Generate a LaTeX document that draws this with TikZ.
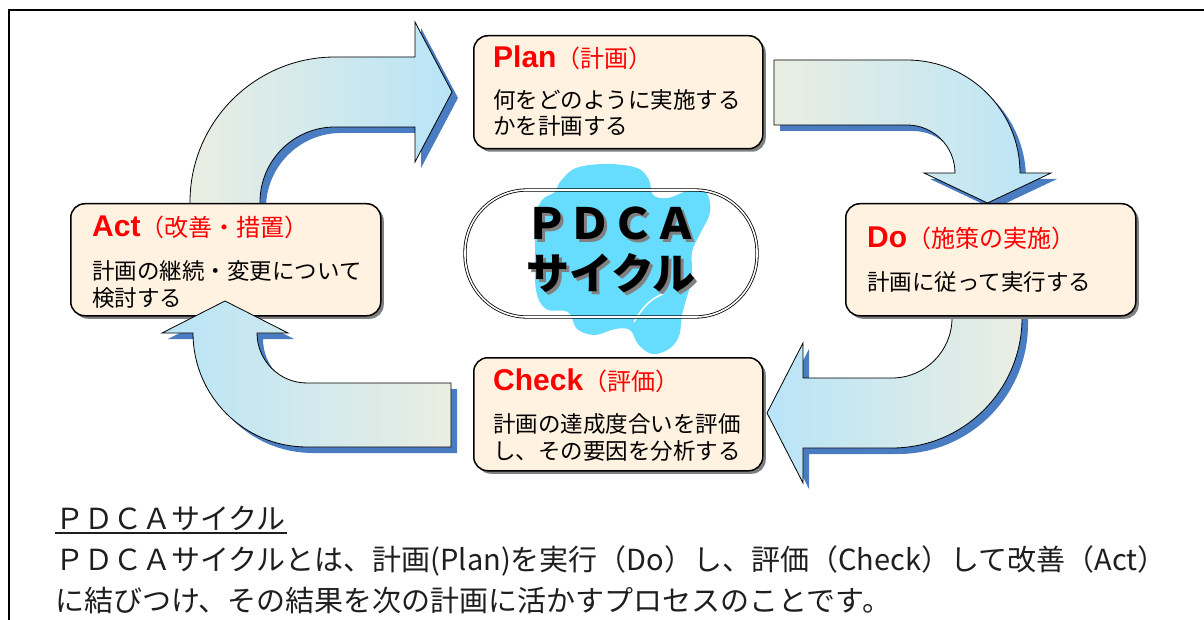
\documentclass[tikz,border=0pt]{standalone}
\usepackage{fontspec}
\setmainfont{Liberation Sans}
\newfontfamily\jp{Noto Sans CJK JP}
\usetikzlibrary{shadows}
\definecolor{boxfill}{RGB}{255,242,224}
\definecolor{arrowshadow}{RGB}{74,124,194}
\definecolor{tailcol}{RGB}{234,238,226}
\definecolor{headcol}{RGB}{184,228,248}
\definecolor{blobcol}{RGB}{102,221,255}
\definecolor{txt}{RGB}{30,30,30}
\definecolor{titlered}{RGB}{255,0,0}
\definecolor{hubshadow}{RGB}{128,128,128}
\newcommand\arrowOne[1]{\path[#1] (190,215) -- (190,202) .. controls (190,122) and (255,57) .. (335,57) -- (415,57) -- (415,22) -- (452,92) -- (415,162) -- (415,127) -- (335,127) .. controls (293.6,127) and (260,160.6) .. (260,202) -- (260,215) -- cycle;}
\newcommand\arrowTwo[1]{\path[#1] (774,60) -- (907,60) .. controls (969.4,60) and (1020,110.6) .. (1020,173) -- (1051,173) -- (987.5,203) -- (924,173) -- (955,173) .. controls (955,146.5) and (933.5,125) .. (907,125) -- (774,125) -- cycle;}
\newcommand\arrowThree[1]{\path[#1] (1022,305) -- (1022,318) .. controls (1022,389.8) and (963.8,448) .. (892,448) -- (803,448) -- (803,483) -- (767,413) -- (803,343) -- (803,378) -- (892,378) .. controls (925.1,378) and (952,351.1) .. (952,318) -- (952,305) -- cycle;}
\newcommand\arrowFour[1]{\path[#1] (451,383) -- (307,383) .. controls (279.4,383) and (257,360.6) .. (257,333) -- (288,333) -- (225,301) -- (162,333) -- (193,333) .. controls (193,396) and (244,447) .. (307,447) -- (451,447) -- cycle;}
\tikzset{
  box/.style={draw=black, line width=1.5pt, fill=boxfill, rounded corners=14pt, inner sep=0pt,
    drop shadow={shadow xshift=3pt, shadow yshift=-3pt, fill=black!50, opacity=1}},
  arrowshade/.style={fill=arrowshadow, shift={(6,6)}},
  arrowbody/.style={draw=black, line width=0.8pt},
  ttl/.style={anchor=base west, inner sep=0pt, text=titlered},
  body/.style={anchor=west, inner sep=0pt, text=black, font=\jp\fontsize{22.5}{26}\selectfont},
  note/.style={anchor=west, inner sep=0pt, text=txt, font=\jp\fontsize{29}{32}\selectfont},
  hubtext/.style={inner sep=0pt, text=black, font=\jp\bfseries\fontsize{43}{46}\selectfont},
}
\newcommand\ttlfont[2]{{\bfseries\fontsize{30}{32}\selectfont #1}{\jp\fontsize{24}{28}\selectfont #2}}
\newcommand\shadowed[1]{\rlap{\hspace{3pt}\raisebox{-3pt}{\textcolor{hubshadow}{#1}}}#1}
\begin{document}
\begin{tikzpicture}[x=1pt,y=-1pt]
\useasboundingbox (0,0) rectangle (1204,620);
% frame
\draw[line width=2pt] (8.5,640) -- (8.5,10) -- (1230,10);
% blob
\fill[blobcol] plot[smooth cycle, tension=0.6] coordinates {(560,182) (576,168) (607,164) (637,168) (649,180) (653,195) (668,198) (690,190) (706,192) (710,212) (700,234) (692,252) (692,277) (686,300) (682,315) (679,336) (669,349) (652,354) (638,344) (630,330) (615,329) (595,335) (577,329) (568,312) (546,309) (536,290) (535,250) (536,215) (543,199) (555,192)};
\draw[white, line width=1.5pt] (634,322) .. controls (642,308) and (650,299) .. (663,294);
% arrows behind boxes
\arrowOne{arrowshade}
\arrowOne{arrowbody, left color=tailcol, right color=headcol}
\arrowTwo{arrowshade}
\arrowTwo{arrowbody, left color=tailcol, right color=headcol}
\arrowThree{arrowshade}
\arrowThree{arrowbody, left color=headcol, right color=tailcol}
% boxes
\node[box, minimum width=289pt, minimum height=113pt, anchor=north west] (plan) at (473,35) {};
\node[box, minimum width=310pt, minimum height=112pt, anchor=north west] (act) at (70,203) {};
\node[box, minimum width=290pt, minimum height=112pt, anchor=north west] (do) at (845,203) {};
\node[box, minimum width=289pt, minimum height=113pt, anchor=north west] (check) at (473,357) {};
% arrow over Act box
\arrowFour{arrowshade}
\arrowFour{arrowbody, left color=headcol, right color=tailcol}
% box texts
\node[ttl] (planT) at (493,68) {\ttlfont{Plan}{（計画）}};
\node[body] (planB1) at (493,100) {何をどのように実施する};
\node[body] (planB2) at (493,126) {かを計画する};
\node[ttl] (actT) at (92,237) {\ttlfont{Act}{（改善・措置）}};
\node[body] (actB1) at (92,271) {計画の継続・変更について};
\node[body] (actB2) at (92,298) {検討する};
\node[ttl] (doT) at (867,248) {\ttlfont{Do}{（施策の実施）}};
\node[body] (doB1) at (867,282) {計画に従って実行する};
\node[ttl] (checkT) at (493,390) {\ttlfont{Check}{（評価）}};
\node[body] (checkB1) at (493,424) {計画の達成度合いを評価};
\node[body] (checkB2) at (493,451) {し、その要因を分析する};
% hub
\node[hubtext] (pdca) at (611,225) {\shadowed{ＰＤＣＡ}};
\node[hubtext] (cyc) at (611,275) {\shadowed{サイクル}};
\node[draw=black, line width=0.8pt, double=white, double distance=1.6pt, rounded corners=62pt, minimum width=292pt, minimum height=127pt, inner sep=0pt] (hub) at (611,253.5) {};
% bottom text
\node[note] (noteT) at (55,518) {ＰＤＣＡサイクル};
\draw[line width=1.3pt, txt] (55,533) -- (287,533);
\node[note] (note1) at (55,561) {ＰＤＣＡサイクルとは、計画(Plan)を実行（Do）し、評価（Check）して改善（Act）};
\node[note] (note2) at (55,601) {に結びつけ、その結果を次の計画に活かすプロセスのことです。};
\end{tikzpicture}
\end{document}
